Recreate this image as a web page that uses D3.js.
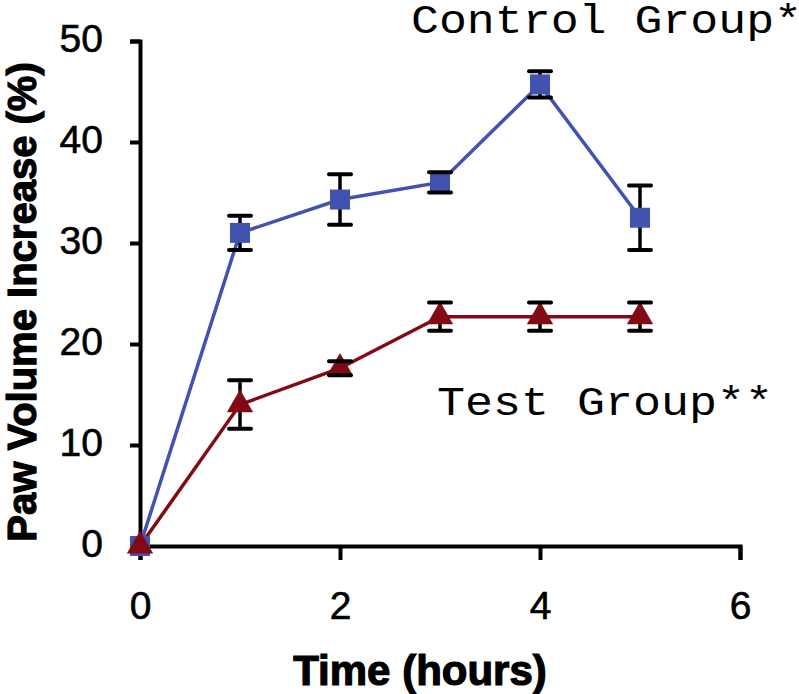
<!DOCTYPE html>
<html><head><meta charset="utf-8">
<script src="https://cdn.jsdelivr.net/npm/d3@7"></script>
<style>html,body{margin:0;padding:0;background:#fff;}svg{display:block;}</style>
</head><body>
<svg id="chart" width="799" height="694"></svg>
<script>
const hours = [0, 1, 2, 3, 4, 5];
const controlMean = [0, 31.0, 34.3, 36.0, 45.7, 32.5];
const controlErr  = [0, 1.7, 2.5, 1.0, 1.3, 3.2];
const testMean = [0, 14.0, 17.6, 22.7, 22.7, 22.7];
const testErr  = [0, 2.4, 0.7, 1.4, 1.4, 1.4];
const xTicks = [0, 2, 4, 6];
const yTicks = [0, 10, 20, 30, 40, 50];
const controlLabel = "Control Group*";
const testLabel = "Test Group**";
const xTitle = "Time (hours)";
const yTitle = "Paw Volume Increase (%)";

const svg = d3.select("#chart");
const x = d3.scaleLinear().domain([0, 6]).range([140, 740]);
const y = d3.scaleLinear().domain([0, 50]).range([546, 41]);

const tickFont = "'Liberation Sans', Arial, sans-serif";

// axes
const xAxis = svg.append("g").attr("transform", `translate(0,${y(0)})`)
  .call(d3.axisBottom(x).tickValues(xTicks).tickFormat(d3.format("d")).tickSizeOuter(0).tickSize(14).tickPadding(31));
const yAxis = svg.append("g").attr("transform", `translate(${x(0)},0)`)
  .call(d3.axisLeft(y).tickValues(yTicks).tickFormat(d3.format("d")).tickSizeOuter(0).tickSize(10).tickPadding(27));
[xAxis, yAxis].forEach(g => {
  g.select(".domain").attr("stroke", "#000").attr("stroke-width", 4);
  g.selectAll(".tick line").attr("stroke", "#000").attr("stroke-width", 4);
  g.selectAll(".tick text").attr("fill", "#000").style("font-family", tickFont)
    .style("font-size", "39px").attr("stroke", "#000").attr("stroke-width", 0.6);
});
yAxis.selectAll(".tick text").attr("dy", "0.28em");

// titles
svg.append("text").attr("x", 420).attr("y", 685).attr("text-anchor", "middle")
  .style("font-family", tickFont).style("font-weight", "bold").style("font-size", "42px")
  .attr("stroke", "#000").attr("stroke-width", 1.2).text(xTitle);
svg.append("text").attr("transform", "translate(36,302) rotate(-90)").attr("text-anchor", "middle")
  .style("font-family", tickFont).style("font-weight", "bold").style("font-size", "40px")
  .attr("stroke", "#000").attr("stroke-width", 1.2).text(yTitle);

// series
const series = [
  {mean: controlMean, err: controlErr, color: "#4252b0", symbol: d3.symbolSquare, size: 400},
  {mean: testMean, err: testErr, color: "#820a14", symbol: d3.symbolTriangle, size: 300}
];
const line = d3.line().x((d, i) => x(hours[i])).y(d => y(d));

series.forEach(s => {
  svg.append("path").datum(s.mean).attr("d", line).attr("fill", "none")
    .attr("stroke", s.color).attr("stroke-width", 3.5);
});
series.forEach(s => {
  const g = svg.append("g");
  hours.forEach((h, i) => {
    if (s.err[i] > 0) {
      g.append("line").attr("x1", x(h)).attr("x2", x(h))
        .attr("y1", y(s.mean[i] - s.err[i])).attr("y2", y(s.mean[i] + s.err[i]))
        .attr("stroke", "#000").attr("stroke-width", 3.5);
    }
  });
});
series.forEach(s => {
  svg.append("g").selectAll("path").data(s.mean).join("path")
    .attr("transform", (d, i) => `translate(${x(hours[i])},${y(d)})`)
    .attr("d", d3.symbol().type(s.symbol).size(s.size)).attr("fill", s.color);
});
series.forEach(s => {
  const g = svg.append("g");
  hours.forEach((h, i) => {
    if (s.err[i] > 0) {
      [s.mean[i] - s.err[i], s.mean[i] + s.err[i]].forEach(v => {
        g.append("line").attr("x1", x(h) - 11).attr("x2", x(h) + 11)
          .attr("y1", y(v)).attr("y2", y(v))
          .attr("stroke", "#000").attr("stroke-width", 4).attr("stroke-linecap", "round");
      });
    }
  });
});

// labels
const mono = "'Liberation Mono', 'Courier New', monospace";
svg.append("text").attr("x", 411).attr("y", 33).style("font-family", mono)
  .style("font-size", "40px").attr("fill", "#000")
  .attr("textLength", 391).attr("lengthAdjust", "spacingAndGlyphs").text(controlLabel);
svg.append("text").attr("x", 437).attr("y", 415).style("font-family", mono)
  .style("font-size", "41px").attr("fill", "#000")
  .attr("textLength", 336).attr("lengthAdjust", "spacingAndGlyphs").text(testLabel);
</script>
</body></html>
